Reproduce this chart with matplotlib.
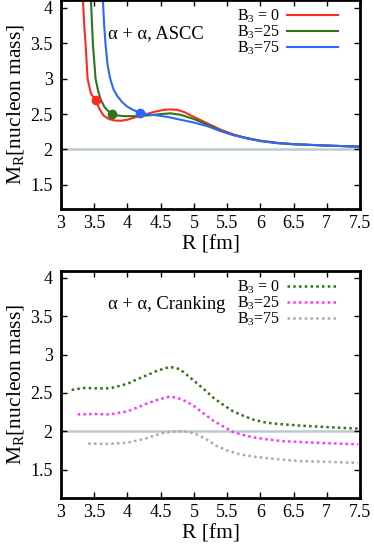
import matplotlib
matplotlib.use("Agg")
import matplotlib.pyplot as plt

plt.rcParams['font.family'] = ['Liberation Serif', 'DejaVu Serif']
plt.rcParams['mathtext.fontset'] = 'custom'
plt.rcParams['mathtext.rm'] = 'Liberation Serif'
plt.rcParams['mathtext.it'] = 'Liberation Serif:italic'

# ---- ASCC (top) ----
r_red = [3.33, 3.35, 3.37, 3.40, 3.45, 3.52, 3.58, 3.64, 3.72, 3.80, 3.90, 4.0, 4.1, 4.25, 4.4,
         4.55, 4.65, 4.75, 4.85, 5.0, 5.2, 5.4, 5.6, 5.8, 6.0, 6.25, 6.5, 7.0, 7.5]
m_red = [4.12, 3.75, 3.49, 3.0, 2.79, 2.70, 2.57, 2.48, 2.43, 2.41, 2.405, 2.42, 2.45, 2.49, 2.53,
         2.56, 2.565, 2.56, 2.53, 2.46, 2.37, 2.28, 2.21, 2.16, 2.125, 2.095, 2.075, 2.055, 2.04]
r_grn = [3.45, 3.48, 3.52, 3.56, 3.60, 3.66, 3.72, 3.77, 3.85, 3.95, 4.1, 4.3, 4.5, 4.65, 4.8,
         5.0, 5.2, 5.4, 5.6, 5.8, 6.0, 6.25, 6.5, 7.0, 7.5]
m_grn = [4.12, 3.49, 3.0, 2.82, 2.70, 2.59, 2.535, 2.505, 2.48, 2.47, 2.47, 2.48, 2.50, 2.51, 2.49,
         2.43, 2.35, 2.27, 2.205, 2.16, 2.12, 2.09, 2.075, 2.055, 2.04]
r_blu = [3.63, 3.65, 3.67, 3.70, 3.74, 3.79, 3.85, 3.92, 3.99, 4.08, 4.19, 4.3, 4.45, 4.6, 4.8,
         5.0, 5.2, 5.4, 5.6, 5.8, 6.0, 6.25, 6.5, 7.0, 7.5]
m_blu = [4.12, 3.75, 3.49, 3.2, 3.0, 2.85, 2.75, 2.67, 2.61, 2.56, 2.52, 2.50, 2.48, 2.46, 2.42,
         2.38, 2.33, 2.26, 2.20, 2.155, 2.12, 2.09, 2.075, 2.055, 2.04]
dot_r = [3.52, 3.77, 4.19]
dot_m = [2.70, 2.505, 2.52]

# ---- Cranking (bottom) ----
rc0 = [3.16, 3.34, 3.55, 3.74, 4.0, 4.15, 4.29, 4.45, 4.64, 4.79, 5.0, 5.15, 5.29, 5.45, 5.59,
       5.75, 5.9, 6.1, 6.35, 6.6, 7.1, 7.47]
mc0 = [2.54, 2.565, 2.56, 2.56, 2.62, 2.68, 2.73, 2.79, 2.84, 2.81, 2.66, 2.55, 2.44, 2.34, 2.26,
       2.20, 2.15, 2.11, 2.09, 2.074, 2.05, 2.035]
rc25 = [3.25, 3.5, 3.74, 4.0, 4.15, 4.29, 4.45, 4.62, 4.74, 4.88, 5.0, 5.15, 5.29, 5.45, 5.59,
        5.75, 5.9, 6.1, 6.35, 6.85, 7.47]
mc25 = [2.22, 2.225, 2.22, 2.26, 2.31, 2.36, 2.41, 2.45, 2.44, 2.39, 2.33, 2.23, 2.14, 2.06, 1.99,
        1.95, 1.92, 1.895, 1.87, 1.85, 1.83]
rc75 = [3.41, 3.7, 3.99, 4.15, 4.29, 4.45, 4.54, 4.68, 4.82, 4.95, 5.04, 5.2, 5.34, 5.5, 5.69,
        5.9, 6.1, 6.35, 6.6, 7.1, 7.47]
mc75 = [1.84, 1.835, 1.85, 1.88, 1.91, 1.955, 1.98, 1.995, 2.0, 1.985, 1.96, 1.89, 1.81, 1.75, 1.70,
        1.67, 1.65, 1.63, 1.61, 1.60, 1.587]

labels = [r'$\mathrm{B}_3$ = 0', r'$\mathrm{B}_3$=25', r'$\mathrm{B}_3$=75']
xticks = [3, 3.5, 4, 4.5, 5, 5.5, 6, 6.5, 7, 7.5]
xticklabels = ['3', '3.5', '4', '4.5', '5', '5.5', '6', '6.5', '7', '7.5']
yticks = [1.5, 2, 2.5, 3, 3.5, 4]
yticklabels = ['1.5', '2', '2.5', '3', '3.5', '4']

c_red, c_grn, c_blu = '#ff2a1f', '#2e7418', '#2f66ff'
c_dgrn, c_mag, c_gry = '#2e7418', '#ff33ff', '#a3abb3'
c_ref = '#bccbcf'

fig = plt.figure(figsize=(3.74, 5.49), dpi=100)
W, H = 374, 549
ax1 = fig.add_axes([61 / W, 1 - 209 / H, 299 / W, 209 / H])
ax2 = fig.add_axes([61 / W, 1 - 498 / H, 299 / W, 227 / H])


def style(ax, ylim):
    ax.set_xlim(3, 7.5)
    ax.set_ylim(*ylim)
    ax.set_xticks(xticks)
    ax.set_xticklabels(xticklabels)
    ax.set_yticks(yticks)
    ax.set_yticklabels(yticklabels)
    ax.tick_params(direction='in', length=4.5, width=1.0, top=True, right=True,
                   labelsize=13, pad=6)
    ax.tick_params(axis='x', pad=4)
    for s in ax.spines.values():
        s.set_linewidth(2.0)
    ax.set_xlabel('R [fm]', fontsize=15.5, labelpad=3)
    ax.set_ylabel(r'$\mathrm{M}_\mathrm{R}$[nucleon mass]', fontsize=15.5, labelpad=3)
    ax.axhline(2.0, color=c_ref, lw=1.8, zorder=1)


def legend(ax):
    ax.legend(loc='upper right', bbox_to_anchor=(0.96, 1.01), frameon=False, markerfirst=False,
              fontsize=11.5, handlelength=3.2, handletextpad=0.45, labelspacing=-0.08,
              borderaxespad=0.2)


style(ax1, (1.16, 4.11))
ax1.plot(r_red, m_red, color=c_red, lw=1.5, label=labels[0])
ax1.plot(r_grn, m_grn, color=c_grn, lw=1.5, label=labels[1])
ax1.plot(r_blu, m_blu, color=c_blu, lw=1.5, label=labels[2])
for xr, ym, c in zip(dot_r, dot_m, [c_red, c_grn, c_blu]):
    ax1.plot([xr], [ym], 'o', color=c, ms=6, zorder=5)
ax1.text(3.71, 3.64, 'α + α, ASCC', fontsize=13.3, va='center', ha='left')
legend(ax1)

style(ax2, (1.13, 4.09))
ds = (0, (1.0, 1.3))
ax2.plot(rc0, mc0, color=c_dgrn, lw=1.8, ls=ds, label=labels[0])
ax2.plot(rc25, mc25, color=c_mag, lw=1.8, ls=ds, label=labels[1])
ax2.plot(rc75, mc75, color=c_gry, lw=1.8, ls=ds, label=labels[2])
ax2.text(3.71, 3.65, 'α + α, Cranking', fontsize=13.3, va='center', ha='left')
legend(ax2)

fig.savefig('out.png', dpi=100)
